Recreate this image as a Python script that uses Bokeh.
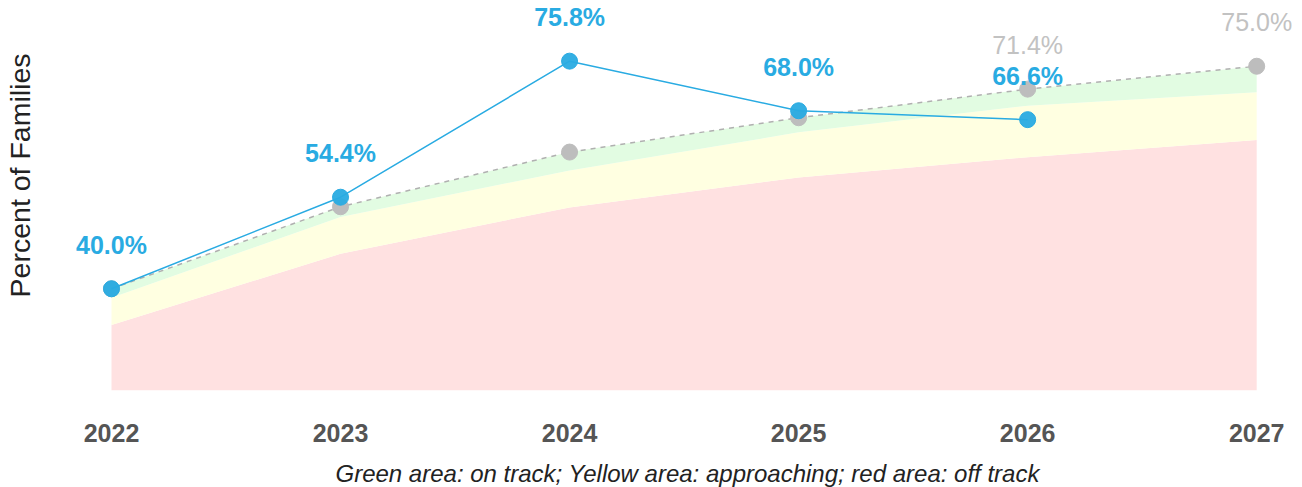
from bokeh.plotting import figure
from bokeh.models import ColumnDataSource, FixedTicker, Range1d, Title
from bokeh.core.properties import value
from bokeh.embed import file_html
from bokeh.resources import INLINE

# ---- data ----
years = [2022, 2023, 2024, 2025, 2026, 2027]
actual_years = [2022, 2023, 2024, 2025, 2026]
actual = [40.0, 54.4, 75.8, 68.0, 66.6]
target = [40.0, 52.9, 61.5, 66.9, 71.4, 75.0]
red_top = [34.3, 45.5, 52.8, 57.5, 60.7, 63.4]
yellow_top = [38.6, 51.3, 58.6, 64.6, 68.8, 70.9]
base = [24.0, 24.0, 24.0, 24.0, 24.0, 24.0]
target_label_years = [2026, 2027]
target_labels = ["71.4%", "75.0%"]
actual_labels = ["40.0%", "54.4%", "75.8%", "68.0%", "66.6%"]

FONT = "Liberation Sans"
BLUE = "#29abe2"
GRAY = "#bdbdbd"

p = figure(width=1302, height=487, output_backend="svg", toolbar_location=None,
           x_range=Range1d(2021.6857, 2027.2), y_range=Range1d(24.0, 85.34),
           min_border_top=0, min_border_right=0, min_border_left=0, min_border_bottom=97)
p.outline_line_color = None
p.xgrid.visible = False
p.ygrid.visible = False
p.background_fill_color = "white"

bands = ColumnDataSource(dict(x=years, base=base, red=red_top, yellow=yellow_top, target=target))
p.varea(x="x", y1="base", y2="red", source=bands, fill_color="#ffe1e1")
p.varea(x="x", y1="red", y2="yellow", source=bands, fill_color="#ffffe1")
p.varea(x="x", y1="yellow", y2="target", source=bands, fill_color="#e2fce2")

# target line
p.line(x="x", y="target", source=bands, line_color="#b0b0b0", line_width=1.5, line_dash="5 5")
p.scatter(x="x", y="target", source=bands, size=16, fill_color=GRAY, line_color=GRAY)

# actual line
act = ColumnDataSource(dict(x=actual_years, y=actual, lab=actual_labels))
p.line(x="x", y="y", source=act, line_color=BLUE, line_width=1.5)
p.scatter(x="x", y="y", source=act, size=16, fill_color=BLUE, line_color=BLUE, fill_alpha=0.95)

# labels
tl = ColumnDataSource(dict(x=target_label_years, y=[target[years.index(v)] for v in target_label_years], lab=target_labels))
p.text(x="x", y="y", text="lab", source=tl, text_color="#c2c2c2", text_font=value(FONT),
       text_font_size="25px", text_align="center", text_baseline="middle", y_offset=-44)
p.text(x="x", y="y", text="lab", source=act, text_color=BLUE, text_font=value(FONT),
       text_font_size="25px", text_font_style="bold", text_align="center", text_baseline="middle", y_offset=-44)

# axes
xa = p.xaxis[0]
xa.ticker = FixedTicker(ticks=years)
xa.axis_line_color = None
xa.major_tick_line_color = None
xa.minor_tick_line_color = None
xa.major_tick_out = 0
xa.major_label_standoff = 33
xa.major_label_text_font = FONT
xa.major_label_text_font_size = "25px"
xa.major_label_text_font_style = "bold"
xa.major_label_text_color = "#555555"

spacer = Title(text=" ", text_font_size="1px", standoff=11)
p.add_layout(spacer, "below")

caption = Title(text="Green area: on track; Yellow area: approaching; red area: off track",
                align="left", offset=296, vertical_align="middle",
                text_font=FONT, text_font_size="24px", text_font_style="italic",
                text_color="#222222", standoff=0)
p.add_layout(caption, "below")

p.yaxis.visible = False

ytitle = Title(text="Percent of Families", align="right", offset=53, vertical_align="middle",
               text_font=FONT, text_font_size="28.5px", text_font_style="normal",
               text_color="#222222", standoff=5)
p.add_layout(ytitle, "left")

open("out.html", "w").write(file_html(p, INLINE))
